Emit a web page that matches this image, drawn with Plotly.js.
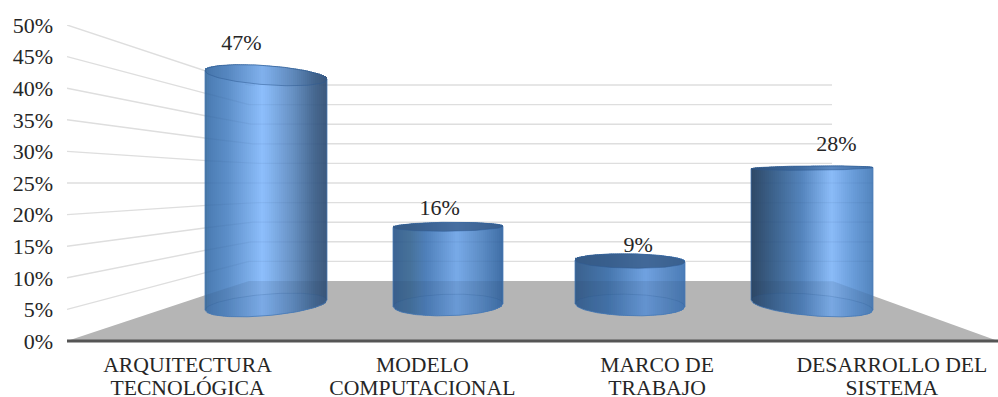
<!DOCTYPE html>
<html>
<head>
<meta charset="utf-8">
<script src="https://cdn.plot.ly/plotly-3.0.1.min.js"></script>
<style>html,body{margin:0;padding:0;background:#fff}#chart{width:998px;height:397px}</style>
</head>
<body>
<div id="chart"></div>
<script>
// Chart data
const categories = [['ARQUITECTURA', 'TECNOLÓGICA'], ['MODELO', 'COMPUTACIONAL'], ['MARCO DE', 'TRABAJO'], ['DESARROLLO DEL', 'SISTEMA']];
const percentages = [47, 16, 9, 28];
const axisTicks = [0, 5, 10, 15, 20, 25, 30, 35, 40, 45, 50];

// Page frame of the plot area
const W = 998, H = 397, LEFT = 67, AXIS_Y = 341, TOP_Y = 25;

// Perspective room: front edge of the floor, back corners, eye level
const BACK_L = 248, BACK_R = 832, BACK_Y = 281, BACK_TOP = 85, EYE_Y = 183, MID_X = 540;
const FRONT_STEP = 234.8, FRONT_FIRST = 187.5;    // category spacing on the front edge
const CYL_FIRST = 266, CYL_STEP = 182;            // category spacing at cylinder depth
const BASE_Y = 305, RISE = 4.89;                  // cylinder base line and pixels per percent
const LABEL_LINES = [366.5, 390];                 // centre lines of the two category label rows

// Conversion to the axis units used by the two linear axes
const ux = px => (px - FRONT_FIRST) / FRONT_STEP;
const uy = py => (AXIS_Y - py) / ((AXIS_Y - TOP_Y) / 50);

// Lighting across each cylinder: [position 0..1, colour]
const bodyShades = [
  [[0, '#47759f'], [.03, '#4c7db4'], [.18, '#5c8ec8'], [.47, '#8dbefb'], [.52, '#86b6f2'], [.72, '#6791c3'], [.9, '#46678f'], [1, '#3d597c']],
  [[0, '#3c6494'], [.15, '#467199'], [.3, '#4f80ba'], [.58, '#78aae8'], [.8, '#5d8dc6'], [1, '#3f6ea6']],
  [[0, '#3a618e'], [.3, '#4676ad'], [.64, '#70a2e1'], [.85, '#5b8bc5'], [1, '#4a7cb8']],
  [[0, '#2e4866'], [.2, '#3e6590'], [.42, '#5585bd'], [.66, '#8bbcf8'], [.82, '#6c9fdc'], [1, '#5284bd']]
];
const capTints = ['rgba(45,85,135,0.12)', 'rgba(52,88,132,0.72)', 'rgba(52,88,132,0.78)', 'rgba(45,85,135,0.5)'];

const hex = c => [1, 3, 5].map(i => parseInt(c.substr(i, 2), 16));
function shadeAt(stops, f) {
  for (let i = 1; i < stops.length; i++) {
    if (f <= stops[i][0]) {
      const a = stops[i - 1], b = stops[i], t = (f - a[0]) / (b[0] - a[0]);
      const ca = hex(a[1]), cb = hex(b[1]);
      return 'rgb(' + ca.map((v, k) => Math.round(v + (cb[k] - v) * t)).join(',') + ')';
    }
  }
  return stops[stops.length - 1][1];
}

// Ellipse of a cylinder section at a given height on the page
const radiusAt = cx => Math.round(54.8 + 8.26e-5 * (cx - MID_X) * (cx - MID_X));
const squashAt = cy => 1 + 0.08 * Math.abs(cy - EYE_Y);
const tiltAt = (cx, cy) => 2.46e-6 * (cx - MID_X) * (cy - EYE_Y);
function arcY(x, cx, r, cy, side) {
  const d = (x - cx) / r;
  return cy + tiltAt(cx, cy) * (x - cx) + side * squashAt(cy) * Math.sqrt(Math.max(0, 1 - d * d));
}
function polygon(xs, ys, colour) {
  return { type: 'scatter', mode: 'lines', x: xs.map(ux), y: ys.map(uy), fill: 'toself', fillcolor: colour,
           line: { width: 0, color: colour }, hoverinfo: 'skip', showlegend: false };
}
function polyline(xs, ys, colour, width) {
  return { type: 'scatter', mode: 'lines', x: xs.map(ux), y: ys.map(v => v === null ? null : uy(v)),
           line: { width: width, color: colour }, hoverinfo: 'skip', showlegend: false, connectgaps: false };
}

const traces = [];

// Floor and its dark front edge
traces.push(polygon([LEFT, BACK_L, BACK_R, W, LEFT], [AXIS_Y, BACK_Y, BACK_Y, AXIS_Y, AXIS_Y], '#b5b5b5'));
traces.push(polyline([LEFT, W], [AXIS_Y, AXIS_Y], '#555555', 3));

// Gridlines on the side and back walls
const wallY = v => AXIS_Y - (AXIS_Y - TOP_Y) * v / 50;
const backY = v => BACK_Y - (BACK_Y - BACK_TOP) * v / 50;
axisTicks.filter(v => v > 0).forEach(v => {
  traces.push(polyline([LEFT, BACK_L, BACK_R], [wallY(v), backY(v), backY(v)], '#dedede', 1.4));
});
const gridYAt = (v, x) => x >= BACK_L ? backY(v) : wallY(v) + (backY(v) - wallY(v)) * (x - LEFT) / (BACK_L - LEFT);
const floorEdgeAt = x => x < BACK_L ? AXIS_Y + (BACK_Y - AXIS_Y) * (x - LEFT) / (BACK_L - LEFT)
                       : x > BACK_R ? BACK_Y + (AXIS_Y - BACK_Y) * (x - BACK_R) / (W - BACK_R) : BACK_Y;

// Value labels sit behind the cylinders, so a low cap can overlap its label
traces.push({
  type: 'scatter', mode: 'text',
  x: percentages.map((v, i) => ux(CYL_FIRST + CYL_STEP * i + 0.09 * (CYL_FIRST + CYL_STEP * i - MID_X))),
  y: percentages.map(v => uy(BASE_Y - RISE * v - (10.5 + 0.43 * v))),
  text: percentages.map(v => v + '%'),
  textposition: 'middle center',
  textfont: { family: '"Liberation Serif", serif', size: 22, color: '#262626' },
  cliponaxis: false, hoverinfo: 'skip', showlegend: false
});

// Cylinders
percentages.forEach((v, i) => {
  const cx = CYL_FIRST + CYL_STEP * i, r = radiusAt(cx);
  const topY = BASE_Y - RISE * v;
  const xs = [];
  for (let x = cx - r; x < cx + r; x += 2) xs.push(x);

  // Body, one narrow vertical strip per lighting step
  xs.forEach(x => {
    const x1 = Math.min(x + 3, cx + r), xe = Math.min(x + 2, cx + r);
    const f = (x + 1 - (cx - r)) / (2 * r);
    const up = Math.min(arcY(x, cx, r, topY, -1), arcY(x1, cx, r, topY, -1));
    traces.push(polygon(
      [x, x1, x1, x, x],
      [up, up, arcY(xe, cx, r, BASE_Y, 1), arcY(x, cx, r, BASE_Y, 1), up],
      shadeAt(bodyShades[i], Math.min(1, f))));
  });

  // Floor and gridlines showing through the glassy body
  const edge = xs.concat([cx + r]);
  const back = edge.slice().reverse();
  traces.push(polygon(
    edge.concat(back),
    edge.map(floorEdgeAt).concat(back.map(x => arcY(x, cx, r, BASE_Y, 1))),
    'rgba(40,60,90,0.13)'));
  axisTicks.filter(t => t > 0).forEach(t => {
    const ys = edge.map(x => {
      const y = gridYAt(t, x);
      return (y > arcY(x, cx, r, topY, 1) + 1 && y < floorEdgeAt(x)) ? y : null;
    });
    if (ys.some(y => y !== null)) traces.push(polyline(edge, ys, 'rgba(40,70,110,0.07)', 1.2));
  });

  // Base disc seen through the body
  const baseX = edge.concat(back);
  const baseY = edge.map(x => arcY(x, cx, r, BASE_Y, 1)).concat(back.map(x => arcY(x, cx, r, BASE_Y, -1)));
  traces.push(polygon(baseX, baseY, 'rgba(80,140,215,0.08)'));
  traces.push(polyline(edge, edge.map(x => arcY(x, cx, r, BASE_Y, -1)), 'rgba(40,85,140,0.20)', 1));

  // Outline of sides and front rim
  traces.push(polyline(
    [cx - r].concat(edge),
    [topY + tiltAt(cx, topY) * -r].concat(edge.map(x => arcY(x, cx, r, BASE_Y, 1))),
    'rgba(70,120,180,0.75)', 1));
  traces.push(polyline([cx + r, cx + r], [topY + tiltAt(cx, topY) * r, BASE_Y + tiltAt(cx, BASE_Y) * r], 'rgba(70,120,180,0.75)', 1));

  // Top cap
  const capX = edge.concat(back);
  const capY = edge.map(x => arcY(x, cx, r, topY, 1)).concat(back.map(x => arcY(x, cx, r, topY, -1)));
  traces.push(polygon(capX, capY, capTints[i]));
  traces.push(polyline(edge, edge.map(x => arcY(x, cx, r, topY, -1)), 'rgba(50,95,150,0.75)', 1));
  traces.push(polyline(edge, edge.map(x => arcY(x, cx, r, topY, 1)), 'rgba(45,90,145,0.5)', 1));
});

// Category labels in two rows under the front edge
LABEL_LINES.forEach((lineY, row) => {
  traces.push({
    type: 'scatter', mode: 'text',
    x: categories.map((c, i) => i),
    y: categories.map(() => uy(lineY)),
    text: categories.map(c => c[row]),
    textposition: 'middle center',
    textfont: { family: '"Liberation Serif", serif', size: 21.7, color: '#262626' },
    cliponaxis: false, hoverinfo: 'skip', showlegend: false
  });
});

const layout = {
  width: W, height: H, showlegend: false,
  paper_bgcolor: '#ffffff', plot_bgcolor: '#ffffff',
  margin: { l: LEFT, r: 0, t: TOP_Y, b: 0, pad: 0 },
  font: { family: '"Liberation Serif", serif', size: 22, color: '#262626' },
  xaxis: {
    range: [ux(LEFT), ux(W)], fixedrange: true, zeroline: false, showgrid: false, showline: false,
    ticks: '', tickmode: 'array', tickvals: categories.map((c, i) => i), showticklabels: false
  },
  yaxis: {
    range: [uy(H), 50], fixedrange: true, zeroline: false, showgrid: false, showline: false,
    ticks: '', tickmode: 'array', tickvals: axisTicks, ticktext: axisTicks.map(t => t + '%'),
    ticklabelstandoff: 13
  }
};
Plotly.newPlot('chart', traces, layout, { displayModeBar: false, staticPlot: true });
</script>
</body>
</html>
